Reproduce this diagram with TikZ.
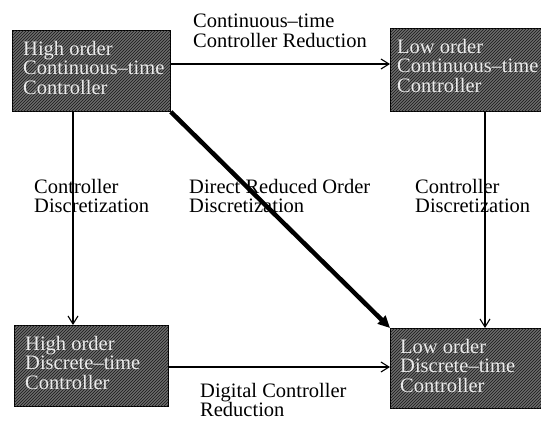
\documentclass[tikz,border=0pt]{standalone}
\usepackage{fontspec}
\setmainfont{Liberation Serif}
\usetikzlibrary{arrows.meta,patterns,calc}
\begin{document}
\begin{tikzpicture}[x=1pt,y=-1pt,
  box/.style={draw=black, line width=0.8pt, fill=black!58,
    postaction={pattern=north east lines, pattern color=black!90},
    inner sep=0pt, anchor=north west},
  boxtext/.style={anchor=north west, inner sep=0pt, align=left, text=black!8,
    font=\fontsize{20.5}{19.5}\selectfont},
  lbl/.style={anchor=north west, inner sep=0pt, align=left,
    font=\fontsize{20.5}{19.5}\selectfont},
  arr/.style={line width=1.1pt, -{Straight Barb[length=8pt,width=10pt]}},
  bigarr/.style={line width=4.5pt, -{Triangle[length=12pt,width=11pt]}}]
\useasboundingbox (0,0) rectangle (541,423);
% boxes
\node[box, minimum width=158pt, minimum height=81pt] (hc) at (12,30) {};
\node[box, minimum width=153pt, minimum height=83pt] (lc) at (390,28) {};
\node[box, minimum width=154pt, minimum height=81pt] (hd) at (14,325) {};
\node[box, minimum width=153pt, minimum height=80pt] (ld) at (390,328) {};
% box texts
\node[boxtext] (hct) at (23,41) {High order\\Continuous--time\\Controller};
\node[boxtext] (lct) at (397,39) {Low order\\Continuous--time\\Controller};
\node[boxtext] (hdt) at (25,336) {High order\\Discrete--time\\Controller};
\node[boxtext] (ldt) at (400,339) {Low order\\Discrete--time\\Controller};
% labels
\node[lbl] (ctr) at (193,14) {Continuous--time\\Controller Reduction};
\node[lbl] (cdl) at (34,179) {Controller\\Discretization};
\node[lbl] (drd) at (189,179) {Direct Reduced Order\\Discretization};
\node[lbl] (cdr) at (415,179) {Controller\\Discretization};
\node[lbl] (dcr) at (200,383) {Digital Controller\\Reduction};
% helper coordinates
\coordinate (ty) at (0,64);
\coordinate (by) at (0,367);
\coordinate (lx) at (73,0);
\coordinate (rx) at (485,0);
% connectors
\draw[arr] (hc.east |- ty) -- (lc.west |- ty);
\draw[arr] (hd.east |- by) -- (ld.west |- by);
\draw[arr] (hc.south -| lx) -- (hd.north -| lx);
\draw[arr] (lc.south -| rx) -- (ld.north -| rx);
\draw[bigarr] (hc.south east) -- (ld.north west);
\end{tikzpicture}
\end{document}
